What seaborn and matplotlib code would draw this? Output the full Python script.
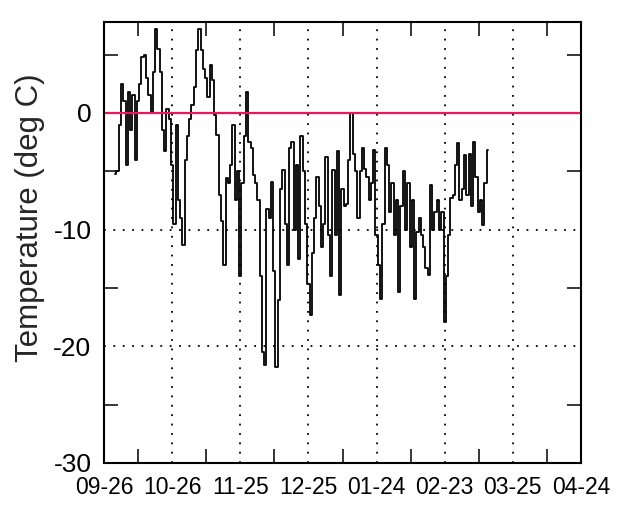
import numpy as np
import matplotlib
matplotlib.use("Agg")
import matplotlib.pyplot as plt
import seaborn as sns

# Daily mean air temperature (deg C); first reading is 5 days after 09-26
first_day = 5
temps = [
    -5.2, -5.0, -1.0, 2.5, 1.0, -4.5, 1.8, -1.5, 1.5, -4.0,
    1.0, 2.5, 4.8, 5.0, 3.0, 1.5, 0.0, 3.5, 7.2, 5.5,
    3.5, -1.5, -3.3, 0.3, -0.5, -4.5, -9.5, -1.0, -7.5, -9.0,
    -11.3, -4.0, -2.0, -0.5, 0.7, 2.2, 5.4, 7.2, 5.4, 3.8,
    3.0, 1.4, 4.1, 2.8, -0.2, -1.9, -7.0, -9.3, -13.0, -5.6,
    -6.0, -4.5, -1.0, -7.5, -5.0, -14.0, -6.0, -2.0, 1.8, -2.5,
    -3.0, -5.3, -6.0, -7.5, -14.0, -20.5, -21.6, -8.2, -9.0, -5.9,
    -13.5, -21.8, -16.0, -6.5, -4.9, -9.5, -13.0, -3.0, -2.5, -10.0,
    -4.5, -12.5, -2.0, -5.0, -9.5, -14.7, -17.3, -12.0, -9.0, -5.5,
    -8.0, -11.5, -9.5, -3.8, -10.5, -14.0, -4.9, -10.5, -3.3, -15.6,
    -6.5, -8.0, -7.8, -4.0, 0.0, -3.5, -5.0, -9.0, -5.0, -3.0,
    -4.8, -5.5, -7.5, -6.0, -3.2, -10.5, -13.0, -15.9, -9.5, -3.0,
    -4.5, -8.5, -6.0, -10.5, -7.5, -15.3, -8.0, -5.0, -10.0, -6.0,
    -11.5, -7.5, -15.9, -10.2, -9.0, -10.5, -11.5, -13.3, -13.9, -6.2,
    -10.0, -8.5, -7.5, -10.0, -8.5, -17.9, -14.0, -10.5, -7.3, -7.0,
    -4.5, -2.6, -7.5, -6.5, -3.6, -7.0, -3.5, -8.0, -2.5, -5.5,
    -8.5, -7.5, -9.6, -6.0, -3.2,
]
days = np.arange(first_day, first_day + len(temps))

date_labels = ["09-26", "10-26", "11-25", "12-25", "01-24", "02-23", "03-25", "04-24"]
label_step = 30
y_major = [-30, -20, -10, 0]
y_minor = [-25, -15, -5, 5]

sns.set_style("white")
plt.rcParams["font.family"] = ["Liberation Sans", "DejaVu Sans"]

W, H = 626, 505
fig = plt.figure(figsize=(W / 100, H / 100), dpi=100)
left, right, top, bottom = 104, 581, 22, 463
ax = fig.add_axes([left / W, 1 - bottom / H, (right - left) / W, (bottom - top) / H])

sns.lineplot(x=days, y=temps, ax=ax, color="black", linewidth=1.3,
             drawstyle="steps-mid", estimator=None, zorder=4)
ax.axhline(0, color="#e8185c", linewidth=1.6, zorder=5)

xmax = label_step * (len(date_labels) - 1)
ax.set_xlim(0, xmax)
ax.set_ylim(-30, 7.8)

major_x = np.arange(0, xmax + 1, label_step)
ax.set_xticks(major_x)
ax.set_xticklabels(date_labels, fontsize=16.5)
ax.set_xticks(major_x[:-1] + label_step / 2, minor=True)
ax.set_yticks(y_major)
ax.set_yticklabels([str(v) for v in y_major], fontsize=19)
ax.set_yticks(y_minor, minor=True)

ax.tick_params(which="major", length=0, pad=9, colors="black")
ax.tick_params(which="minor", direction="in", length=10, width=1.3,
               top=True, bottom=True, left=True, right=True)
ax.grid(which="major", color="black", linestyle=(0, (1, 4.2)), linewidth=1.3)
ax.set_xlabel("")
ax.set_ylabel("")
for s in ax.spines.values():
    s.set_color("black")
    s.set_linewidth(1.5)
    s.set_zorder(6)

fig.text(30 / W, 1 - 218 / H, "Temperature (deg C)", rotation=90,
         ha="center", va="center", fontsize=22.5)

fig.savefig("out.png", dpi=100)
